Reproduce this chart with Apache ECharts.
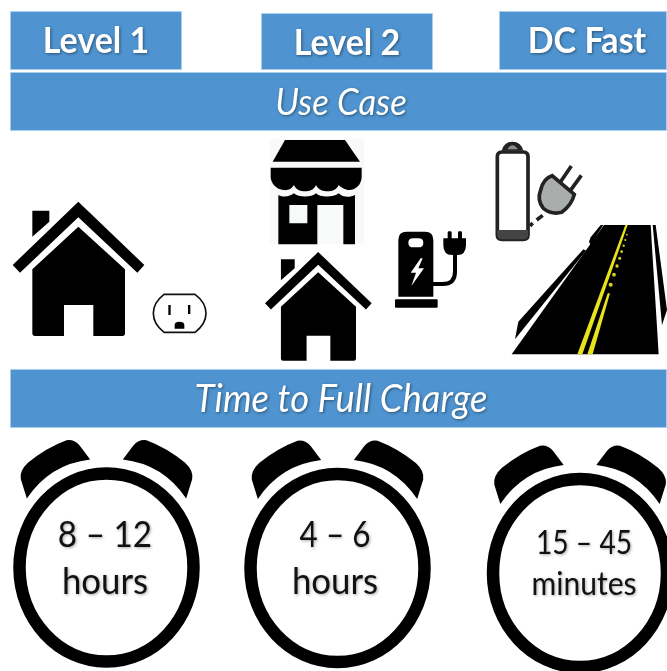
<!DOCTYPE html>
<html><head><meta charset="utf-8">
<style>html,body{margin:0;padding:0;background:#fff}#c{width:667px;height:671px}</style>
<script src="https://cdn.jsdelivr.net/npm/echarts@6/dist/echarts.min.js"></script>
</head><body><div id="c"></div>
<script>
// Content
var levels = ['Level 1', 'Level 2', 'DC Fast'];
var sections = ['Use Case', 'Time to Full Charge'];
var chargeRanges = ['8 \u2013 12', '4 \u2013 6', '15 \u2013 45'];
var chargeUnits = ['hours', 'hours', 'minutes'];

// Layout
var BLUE = '#4f94d0', EDGE = '#a9cdea', FONT = 'Lato, Carlito, sans-serif';
var levelBoxes = [[10,11,172,59,96,41],[261,13,172,57,347,43],[499,11,168,59,587,41]];
var sectionBars = [[10,72,657,59,341,103,37,.94],[10,369,657,59,341,400,38,.96]];
var clocks = [
  {c:[106.5,567.5],size:37,top:[105,535,.90],bot:[105,582,.94]},
  {c:[337.5,568],size:37,top:[335,535,.85],bot:[335,582,.94]},
  {c:[580,573],size:32,top:[584,544,.88],bot:[584,585,.94]}
];

var HOUSE = 'M97 242H148V275L97 320Z M235 215L433 405L412 428L235 262L60 428L38 405Z M235 290L375 418V610Q375 618 367 618H280V525H192V618H105Q97 618 97 610V418Z';
var OUTLET_PATH = 'M492 493H585C608 510 618 530 618 550C618 570 608 590 585 607H492C470 590 460 570 460 550C460 530 470 510 492 493Z';
var STORE_ROOF = 'M855 30H1035L1080 95H818Z';
var STORE_AWN = 'M812 113H1085V140C1085 165 1065 180 1048 180C1035 180 1022 172 1016 165C1010 180 995 184 983 184C970 184 955 180 948 165C942 180 928 184 915 184C902 184 888 180 882 165C875 178 862 182 850 180C830 178 812 160 812 140Z';
var STORE_BODY = 'M835 195C850 203 870 200 882 190C895 203 935 203 948 190C960 203 1000 203 1016 190C1028 203 1050 203 1065 195V343H1030V225H952V343H835Z M868 225V280H922V225Z';
var BOLT = 'M122 385L92 428H108L94 468L132 415H115L128 385Z';
var CHARGER = 'M55 330Q55 305 80 305H135Q160 305 160 330V500H55Z M85 338Q85 352 100 352H115Q130 352 130 338Q130 325 115 325H100Q85 325 85 338Z';
var BATT = 'M352 80Q352 66 366 66H430Q444 66 444 80V315Q444 328 430 328H366Q352 328 352 315Z';
var ROAD = 'M395 673L672 285H812L836 673Z';
var ROAD_L1 = 'M405 628L415 575L610 358L618 362Z';
var ROAD_L2 = 'M627 335L632 322L662 285H670L632 345Z';
var ROAD_R = 'M818 285H827L861 540L846 585Z';
var YEL_1 = 'M592 673L736 285H743L607 673Z';
var YEL_2 = 'M622 673L683 490H690L638 673Z';
var YEL_DOTS = [[692,464,6],[702,434,5.5],[711,408,5],[719,385,4.5],[725,365,4],[731,347,3.5],[736,330,3],[741,314,2.5]];
var BELL = 'M-239 -207L-257 -265Q-262 -290 -235 -315Q-180 -360 -120 -382Q-95 -385 -80 -365L-49 -324Q-170 -310 -239 -207Z';

var shapeIds = {}, shapeCount = 0;
function shapeType(d){
  if(!shapeIds[d]){
    shapeIds[d] = 'icon' + (++shapeCount);
    echarts.graphic.registerShape(shapeIds[d], echarts.graphic.extendPath(d, {}));
  }
  return shapeIds[d];
}
function path(d, fill, stroke, lw, extra) {
  return Object.assign({type:shapeType(d), style:{fill:fill===undefined?'#000':fill, stroke:stroke||null, lineWidth:lw||0}}, extra||{});
}
function grp(x,y,s,children){ return {type:'group', x:x, y:y, scaleX:s, scaleY:s, children:children}; }
function txt(s,cx,cy,size,color,weight,italic,shadow,sx){
  return {type:'text', x:cx, y:cy, z:20, scaleX:sx||1, style:{text:s, fill:color, align:'center', verticalAlign:'middle',
    font:(italic?'italic ':'')+(weight||'normal')+' '+size+'px '+FONT,
    textShadowColor:shadow, textShadowBlur:3, textShadowOffsetX:1, textShadowOffsetY:1}};
}
function box(a){ return {type:'rect', shape:{x:a[0]+.5,y:a[1]+.5,width:a[2]-1,height:a[3]-1}, style:{fill:BLUE, stroke:EDGE, lineWidth:1}}; }

var g = [];
levelBoxes.forEach(function(b,i){ g.push(box(b)); g.push(txt(levels[i],b[4],b[5],37,'#fff','bold',false,'rgba(0,0,0,0.45)',.92)); });
sectionBars.forEach(function(b,i){ g.push(box(b)); g.push(txt(sections[i],b[4],b[5],b[6],'#fff','normal',true,'rgba(0,0,0,0.45)',b[7])); });

// Level 1: house and outlet
g.push(grp(0,130,1/3,[
  path(HOUSE),
  path(OUTLET_PATH,'#fff','#111',5),
  {type:'rect',shape:{x:505,y:525,width:7,height:30},style:{fill:'#000'}},
  {type:'rect',shape:{x:564,y:525,width:7,height:27},style:{fill:'#000'}},
  path('M524 596V585Q524 575 538 575Q553 575 553 585V596Z')
]));
// Level 2: store and small house
g.push(grp(0,130,1/3,[
  {type:'rect',shape:{x:810,y:28,width:283,height:315},style:{fill:'#f8faf9'}},
  path(STORE_ROOF), path(STORE_AWN), path(STORE_BODY)
]));
g.push(grp(265-38*.27,252-215*.27,.27,[path(HOUSE)]));

// Charger, battery and road
g.push(grp(380,130,1/3,[
  path(CHARGER), path(BOLT,'#fff'),
  {type:'rect',shape:{x:45,y:508,width:128,height:25,r:3},style:{fill:'#000'}},
  path('M225 372V425Q225 462 188 462H158',null,'#000',12),
  path('M190 325H258V345Q258 375 232 375H216Q190 375 190 345Z'),
  {type:'rect',shape:{x:203,y:304,width:12,height:25,r:4},style:{fill:'#000'}},
  {type:'rect',shape:{x:234,y:304,width:12,height:25,r:4},style:{fill:'#000'}},
  path('M365 62Q372 35 397 35Q423 35 430 62Z','#222'),
  path('M382 58Q390 46 397 46Q405 46 414 58Z','#8c8f8d'),
  path(BATT,'#fff','#222',11),
  path('M352 300H444V315Q444 328 430 328H366Q352 328 352 315Z','#444'),
  path('M535 165L574 108M565 190L604 136',null,'#222',11),
  path('M482 180Q490 145 516 137L583 193Q575 225 545 247Q515 255 490 235Q470 210 482 180Z','#a9adab','#222',11),
  path('M450 288L458 279M470 270L488 256',null,'#222',11),
  path(ROAD), path(ROAD_L1), path(ROAD_L2), path(ROAD_R),
  path(YEL_1,'#e8e21a'), path(YEL_2,'#e8e21a')
].concat(YEL_DOTS.map(function(d){ return {type:'circle',shape:{cx:d[0],cy:d[1],r:d[2]},style:{fill:'#d8d41e'}}; }))));

// Clocks
clocks.forEach(function(k,i){
  g.push({type:'ellipse',shape:{cx:k.c[0],cy:k.c[1],rx:87,ry:94},style:{fill:'#fff',stroke:'#000',lineWidth:12.5}});
  g.push({type:'group',x:k.c[0],y:k.c[1],scaleX:1/3,scaleY:1/3,children:[
    path(BELL),
    path(BELL,'#000',null,0,{scaleX:-1})
  ]});
  g.push(txt(chargeRanges[i],k.top[0],k.top[1],k.size,'#111','normal',false,'rgba(0,0,0,0.35)',k.top[2]));
  g.push(txt(chargeUnits[i],k.bot[0],k.bot[1],k.size,'#111','normal',false,'rgba(0,0,0,0.35)',k.bot[2]));
});

var chart = echarts.init(document.getElementById('c'),null,{renderer:'canvas'});
chart.setOption({animation:false, backgroundColor:'#fff', graphic:{elements:g}});
</script></body></html>
